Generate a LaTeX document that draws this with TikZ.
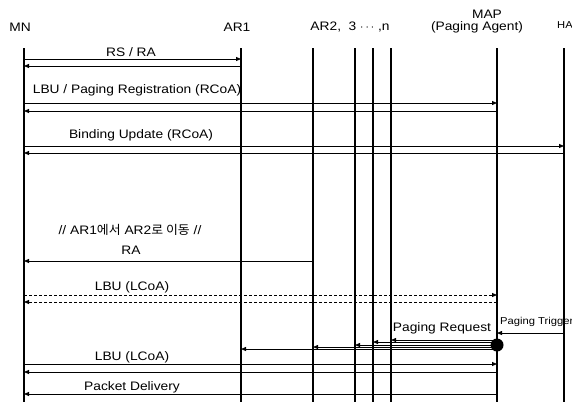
\documentclass[tikz,border=0pt]{standalone}
\usepackage{fontspec}
\setmainfont[FakeStretch=1.12]{Liberation Sans}
\newfontfamily\kr[FakeStretch=1.05]{Noto Sans CJK KR}
\usetikzlibrary{arrows.meta}
\begin{document}
\begin{tikzpicture}[x=1pt,y=-1pt,
  life/.style={line width=1.1pt},
  msg/.style={line width=0.8pt,-{Triangle[length=5pt,width=4pt]}},
  dmsg/.style={msg,dash pattern=on 3pt off 2pt},
  lbl/.style={font=\fontsize{12.3}{14}\selectfont, inner sep=0pt},
  small/.style={font=\fontsize{10}{12}\selectfont, inner sep=0pt}]
\useasboundingbox (0,0) rectangle (572,402);
% lifelines
\coordinate (mn) at (24,48);   \coordinate (mnB) at (24,402);
\coordinate (ar1) at (241,48); \coordinate (ar1B) at (241,402);
\coordinate (ar2) at (313,48); \coordinate (ar2B) at (313,402);
\coordinate (ar3) at (355,48); \coordinate (ar3B) at (355,402);
\coordinate (ar4) at (373,48); \coordinate (ar4B) at (373,402);
\coordinate (arn) at (391,48); \coordinate (arnB) at (391,402);
\coordinate (map) at (497,48); \coordinate (mapB) at (497,402);
\coordinate (ha) at (564,48);  \coordinate (haB) at (564,402);
\foreach \a in {mn,ar1,ar2,ar3,ar4,arn,map,ha} \draw[life] (\a) -- (\a B);
% headers
\node[lbl] (hmn) at (20,27) {MN};
\node[lbl] (har1) at (237,27) {AR1};
\node[lbl] (har) at (350,27) {AR2,\ \ 3 $\cdots$ ,n};
\node[lbl] (hmap) at (487,14) {MAP};
\node[lbl] (hpa) at (477,27) {(Paging Agent)};
\node[small] (hha) at (565,25) {HA};
% RS / RA
\node[lbl] (t1) at (131,52) {RS / RA};
\draw[msg] (mn |- 0,59) -- (ar1 |- 0,59);
\draw[msg] (ar1 |- 0,66) -- (mn |- 0,66);
% LBU / Paging registration
\node[lbl] (t2) at (137,90) {LBU / Paging Registration (RCoA)};
\draw[msg] (mn |- 0,103) -- (map |- 0,103);
\draw[msg] (map |- 0,111) -- (mn |- 0,111);
% Binding update
\node[lbl] (t3) at (141,135) {Binding Update (RCoA)};
\draw[msg] (mn |- 0,146) -- (ha |- 0,146);
\draw[msg] (ha |- 0,153) -- (mn |- 0,153);
% move
\node[lbl] (t4) at (130,230) {// AR1{\kr 에서} AR2{\kr 로 이동} //};
\node[lbl] (t5) at (131,250) {RA};
\draw[msg] (ar2 |- 0,261) -- (mn |- 0,261);
% LBU LCoA dashed
\node[lbl] (t6) at (132,287) {LBU (LCoA)};
\draw[dmsg] (mn |- 0,295) -- (map |- 0,295);
\draw[dmsg] (map |- 0,302) -- (mn |- 0,302);
% paging trigger
\node[small,anchor=west] (t7) at (500,322) {Paging Trigger};
\draw[msg] (ha |- 0,333) -- (map |- 0,333);
% paging request
\node[lbl] (t8) at (442,328) {Paging Request};
\fill (497,345) circle (6.5pt) coordinate (dot);
\draw[msg] (map |- 0,340) -- (arn |- 0,340);
\draw[msg] (map |- 0,342) -- (ar4 |- 0,342);
\draw[msg] (map |- 0,345) -- (ar3 |- 0,345);
\draw[msg] (map |- 0,347) -- (ar2 |- 0,347);
\draw[msg] (map |- 0,349) -- (ar1 |- 0,349);
% LBU LCoA
\node[lbl] (t9) at (132,357) {LBU (LCoA)};
\draw[msg] (mn |- 0,364) -- (map |- 0,364);
\draw[msg] (map |- 0,372) -- (mn |- 0,372);
% packet delivery
\node[lbl] (t10) at (132,387) {Packet Delivery};
\draw[msg] (map |- 0,394) -- (mn |- 0,394);
\end{tikzpicture}
\end{document}
